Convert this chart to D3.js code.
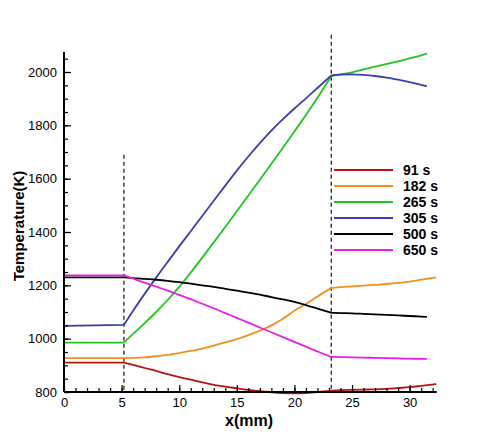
<!DOCTYPE html>
<html><head><meta charset="utf-8">
<script src="https://cdn.jsdelivr.net/npm/d3@7"></script>
<style>body{margin:0;background:#fff}svg{display:block}</style>
</head><body>
<svg id="c" width="497" height="443"></svg>
<script>
const seriesNames = ["91 s","182 s","265 s","305 s","500 s","650 s"];
const seriesColors = ["#b41414","#f0901e","#22c322","#3c3cb4","#000000","#e61ee6"];
const xA = [0,5.2,6,7,8,9,10,11,12,13,14,15,16,17,18,19,20,21,22,23.2,24,25,26,27,28,29,30,31,32.3];
const xB = [0,5.2,6,7,8,9,10,11,12,13,14,15,16,17,18,19,20,21,22,23.2,24,25,26,27,28,29,30,31,31.5];
const t91  = [910,910,902,890,879,867,856,846,836,827,820,814,808,803,799,796,795,796,800,805,807,808,809,810,812,815,818,823,830];
const t182 = [927,927,928,930,934,939,946,954,963,974,986,998,1013,1030,1050,1075,1105,1130,1158,1190,1193,1196,1199,1202,1205,1209,1214,1221,1230];
const t265 = [985,985,1018,1058,1100,1145,1194,1248,1304,1361,1419,1478,1537,1596,1656,1716,1777,1839,1903,1985,1991,1999,2010,2020,2030,2040,2051,2062,2069];
const t305 = [1048,1052,1105,1168,1229,1288,1346,1403,1460,1517,1574,1630,1683,1733,1780,1823,1863,1901,1940,1987,1990,1991,1989,1985,1979,1971,1962,1952,1947];
const t500 = [1230,1230,1227,1224,1221,1217,1212,1206,1200,1194,1187,1180,1173,1165,1156,1147,1138,1126,1113,1097,1096,1095,1093,1091,1089,1087,1085,1083,1082];
const t650 = [1237,1237,1225,1210,1195,1180,1164,1148,1131,1114,1096,1078,1060,1042,1024,1006,988,970,952,932,931,930,929,928,927,926,925,924,924];
const seriesX = [xA,xA,xB,xB,xB,xB];
const seriesT = [t91,t182,t265,t305,t500,t650];
const dashedX = [5.2,23.2];
const dashedTop = [1690,2140];
const xTicks = [0,5,10,15,20,25,30];
const yTicks = [800,1000,1200,1400,1600,1800,2000];

const svg = d3.select("#c");
const L=64,R=436.7,T=52,B=392;
const x = d3.scaleLinear().domain([0,32.35]).range([L,R]);
const y = d3.scaleLinear().domain([800,2075]).range([B,T]);
const font = "'Liberation Sans', Arial, sans-serif";

// dashed lines
dashedX.forEach((d,i)=>{
  svg.append("line").attr("x1",x(d)).attr("x2",x(d))
    .attr("y1",Math.max(y(dashedTop[i]),34)).attr("y2",B)
    .attr("stroke","#333").attr("stroke-width",1.4).attr("stroke-dasharray","4,3");
});

// curves (split at the two kinks so corners stay sharp)
const line = d3.line().x(d=>x(d[0])).y(d=>y(d[1])).curve(d3.curveMonotoneX);
seriesT.forEach((ts,i)=>{
  const pts = ts.map((t,j)=>[seriesX[i][j],t]);
  const segs = [pts.filter(p=>p[0]<=5.2), pts.filter(p=>p[0]>=5.2&&p[0]<=23.2), pts.filter(p=>p[0]>=23.2)];
  svg.append("path").attr("d",segs.map(s=>line(s)).join(" ")).attr("fill","none")
    .attr("stroke",seriesColors[i]).attr("stroke-width",1.8).attr("stroke-linejoin","round");
});

// axes
const xAxis = d3.axisBottom(x).tickValues(xTicks).tickSize(-7).tickPadding(6).tickFormat(d3.format("d"));
const xMinor = d3.axisBottom(x).tickValues(d3.range(0,33,1)).tickSize(-4).tickFormat("");
const yAxis = d3.axisLeft(y).tickValues(yTicks).tickSize(-7).tickPadding(7).tickFormat(d3.format("d"));
const yMinor = d3.axisLeft(y).tickValues(d3.range(800,2076,50)).tickSize(-4).tickFormat("");

function style(g){
  g.select(".domain").remove();
  g.selectAll("line").attr("stroke","#000").attr("stroke-width",1.2);
  g.selectAll("text").attr("font-family",font).attr("font-size",13).attr("fill","#000");
}
svg.append("g").attr("transform",`translate(0,${B})`).call(xMinor).call(style);
svg.append("g").attr("transform",`translate(0,${B})`).call(xAxis).call(style);
svg.append("g").attr("transform",`translate(${L},0)`).call(yMinor).call(style);
svg.append("g").attr("transform",`translate(${L},0)`).call(yAxis).call(style);
svg.append("line").attr("x1",L).attr("x2",R).attr("y1",B).attr("y2",B).attr("stroke","#000").attr("stroke-width",2);
svg.append("line").attr("x1",L).attr("x2",L).attr("y1",T).attr("y2",B).attr("stroke","#000").attr("stroke-width",2);

// titles
svg.append("text").attr("x",249).attr("y",426).attr("text-anchor","middle")
  .attr("font-family",font).attr("font-size",16).attr("font-weight","bold").text("x(mm)");
svg.append("text").attr("transform","translate(24,226) rotate(-90)").attr("text-anchor","middle")
  .attr("font-family",font).attr("font-size",15).attr("font-weight","bold").text("Temperature(K)");

// legend
seriesNames.forEach((n,i)=>{
  const yy = 170 + i*16;
  svg.append("line").attr("x1",334).attr("x2",393).attr("y1",yy).attr("y2",yy)
    .attr("stroke",seriesColors[i]).attr("stroke-width",2);
  svg.append("text").attr("x",403).attr("y",yy+5).attr("font-family",font)
    .attr("font-size",14).attr("font-weight","bold").text(n);
});
</script>
</body></html>
